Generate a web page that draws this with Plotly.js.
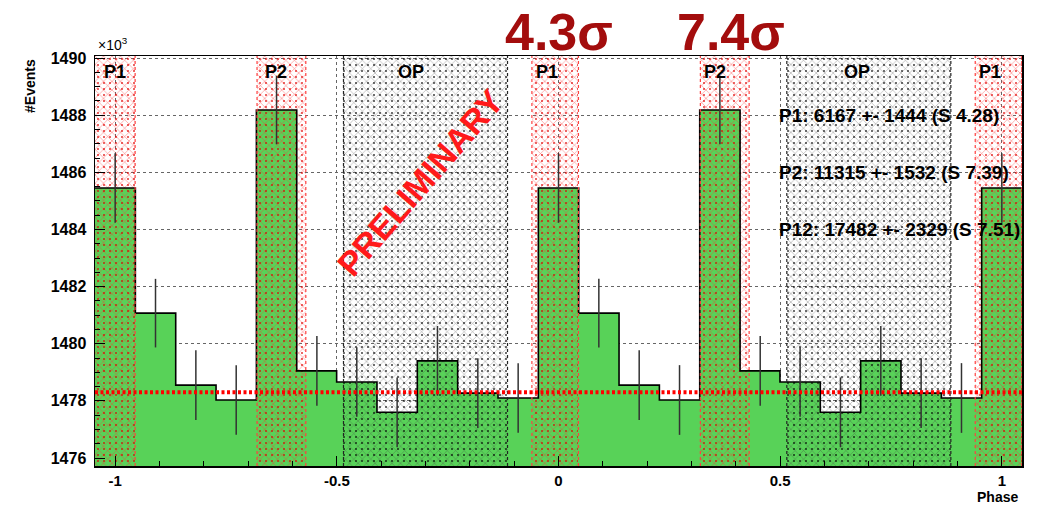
<!DOCTYPE html>
<html><head><meta charset="utf-8">
<script src="https://cdn.plot.ly/plotly-3.0.1.min.js"></script>
<style>html,body{margin:0;padding:0;background:#fff}#chart{width:1043px;height:506px}</style>
</head><body><div id="chart"></div>
<script>
// ---- data ----
const binCenters = [-1.000,-0.909,-0.818,-0.727,-0.636,-0.545,-0.455,-0.364,-0.273,-0.182,-0.091,
                     0.000, 0.091, 0.182, 0.273, 0.364, 0.455, 0.545, 0.636, 0.727, 0.818, 0.909, 1.000];
const binWidth = 0.0909;
const counts = [1485.45,1481.07,1478.55,1478.03,1488.18,1479.05,1478.66,1477.60,1479.40,1478.27,1478.10,
                1485.45,1481.07,1478.55,1478.03,1488.18,1479.05,1478.66,1477.60,1479.40,1478.27,1478.10,
                1485.45];
const countErrors = [1.22,1.20,1.22,1.22,1.20,1.22,1.22,1.22,1.22,1.22,1.22,
                     1.22,1.20,1.22,1.22,1.20,1.22,1.22,1.22,1.22,1.22,1.22,
                     1.22];
const bkgLevel = 1478.3;
const p1Start = [-1.06,-0.06,0.94];
const p1End   = [-0.955,0.045,1.045];
const p2Start = [-0.68,0.32];
const p2End   = [-0.57,0.43];
const opStart = [-0.485,0.515];
const opEnd   = [-0.115,0.885];
const regionLabels = ['P1','P1','P1','P2','P2','OP','OP'];
const regionLabelX = [-1.0,-0.025,0.973,-0.637,0.354,-0.332,0.673];
const fitTexts = ['P1: 6167 +- 1444 (S 4.28)','P2: 11315 +- 1532 (S 7.39)','P12: 17482 +- 2329 (S 7.51)'];
const fitTextY = [1488,1486,1484];
const sigmaTexts = ['4.3σ','7.4σ'];
const sigmaX = [0,0.388];
const yTickVals = [1476,1478,1480,1482,1484,1486,1488,1490];
const xTickVals = [-1,-0.5,0,0.5,1];
const xTickText = ['-1','-0.5','0','0.5','1'];

const xRange = [-1.0455,1.0455];
const yRange = [1475.72,1490.07];
const FONT = 'Liberation Sans, Arial, Helvetica, sans-serif';

function regionBar(starts, ends, fg, op, shape, size, sol) {
  return {
    type:'bar',
    x: starts.map((s,i)=>(s+ends[i])/2),
    width: starts.map((s,i)=>ends[i]-s),
    y: starts.map(()=>yRange[1]-yRange[0]),
    base: yRange[0],
    marker:{color:'rgba(0,0,0,0)', line:{width:0},
      pattern:{shape:shape, fgcolor:fg, bgcolor:'rgba(0,0,0,0)', size:size, solidity:sol, fgopacity:op}},
    hoverinfo:'skip', showlegend:false
  };
}

// step outline from bin edges
const stepX = binCenters.map(c=>c-binWidth/2).concat([binCenters[binCenters.length-1]+binWidth/2]);
const stepY = counts.concat([counts[counts.length-1]]);

const traces = [
  {type:'bar', x:binCenters, y:counts, width:binWidth, marker:{color:'#58d258', line:{width:0}},
   hoverinfo:'skip', showlegend:false},
  regionBar(p1Start,p1End,'#ff3030',0.65,'x',6,0.18),
  regionBar(p2Start,p2End,'#ff3030',0.65,'x',6,0.18),
  regionBar(p1Start,p1End,'#e00000',0.75,'.',6,0.1),
  regionBar(p2Start,p2End,'#e00000',0.75,'.',6,0.1),
  regionBar(opStart,opEnd,'#444444',0.55,'x',6,0.17),
  regionBar(opStart,opEnd,'#000000',0.7,'.',6,0.1),
  {type:'scatter', mode:'lines', x:stepX, y:stepY, line:{shape:'hv', color:'#000', width:1.6},
   hoverinfo:'skip', showlegend:false},
  {type:'scatter', mode:'markers', x:binCenters, y:counts, marker:{size:1, color:'rgba(0,0,0,0)'},
   error_y:{type:'data', array:countErrors, visible:true, color:'#333', thickness:1.5, width:0},
   hoverinfo:'skip', showlegend:false}
];

const shapes = [];
function edgeLines(starts, ends, color){
  starts.forEach((s,i)=>{
    [s,ends[i]].forEach(v=>{
      if (v>xRange[0] && v<xRange[1]) shapes.push({type:'line', xref:'x', yref:'paper', x0:v, x1:v, y0:0, y1:1,
        line:{color:color, width:1.2, dash:'dot'}, layer:'above'});
    });
  });
}
edgeLines(p1Start,p1End,'#ff4040');
edgeLines(p2Start,p2End,'#ff4040');
edgeLines(opStart,opEnd,'#222');
shapes.push({type:'line', xref:'paper', yref:'y', x0:0, x1:1, y0:bkgLevel, y1:bkgLevel,
  line:{color:'#ff0000', width:4, dash:'3px,2.5px'}, layer:'above'});

const annotations = [];
regionLabels.forEach((t,i)=>annotations.push({text:t, x:regionLabelX[i], y:0.962, xref:'x', yref:'paper',
  xanchor:'center', yanchor:'middle',
  showarrow:false, font:{family:FONT, size:18, color:'#000', weight:'bold'}}));
fitTexts.forEach((t,i)=>annotations.push({text:t, x:0.736, y:fitTextY[i], xref:'paper', yref:'y',
  xanchor:'left', yanchor:'middle', showarrow:false, font:{family:FONT, size:19, color:'#000', weight:'bold'}}));
sigmaTexts.forEach((t,i)=>annotations.push({text:t, x:sigmaX[i], y:1.059, xref:'x', yref:'paper',
  xanchor:'center', yanchor:'middle', showarrow:false, font:{family:FONT, size:52, color:'#a30d0d', weight:'bold'}}));
annotations.push({text:'PRELIMINARY', x:0.3506, y:0.69, xref:'paper', yref:'paper', textangle:-49,
  xanchor:'center', yanchor:'middle',
  showarrow:false, font:{family:FONT, size:34, color:'#ff1a1a', weight:'bold'}});
annotations.push({text:'#Events', x:0, xshift:-65, y:0.927, xref:'paper', yref:'paper', textangle:-90,
  xanchor:'center', yanchor:'middle',
  showarrow:false, font:{family:FONT, size:14, color:'#000', weight:'bold'}});
annotations.push({text:'Phase', x:0.974, y:-0.0756, xref:'paper', yref:'paper',
  xanchor:'center', yanchor:'middle',
  showarrow:false, font:{family:FONT, size:14, color:'#000', weight:'bold'}});
annotations.push({text:'×10<sup>3</sup>', x:0.0, xshift:1, y:1.03, xref:'paper', yref:'paper',
  xanchor:'left', yanchor:'middle',
  showarrow:false, font:{family:FONT, size:14, color:'#000'}});

const layout = {
  width:1043, height:506,
  margin:{l:95, r:21, t:56, b:40},
  paper_bgcolor:'#fff', plot_bgcolor:'#fff',
  barmode:'overlay', bargap:0,
  showlegend:false,
  xaxis:{range:xRange, tickvals:xTickVals, ticktext:xTickText, ticks:'inside', ticklen:10, tickcolor:'#000',
    minor:{dtick:0.1, tick0:0, ticks:'inside', ticklen:5, tickcolor:'#000', showgrid:false},
    showline:true, mirror:true, linecolor:'#000', linewidth:1.5,
    showgrid:true, gridcolor:'#666', griddash:'dot', gridwidth:1, zeroline:false,
    tickfont:{family:FONT, size:15, color:'#000', weight:'bold'}},
  yaxis:{range:yRange, tickvals:yTickVals, ticks:'inside', ticklen:10, tickcolor:'#000',
    minor:{dtick:0.5, tick0:1476, ticks:'inside', ticklen:5, tickcolor:'#000', showgrid:false},
    showline:true, mirror:true, linecolor:'#000', linewidth:1.5,
    showgrid:true, gridcolor:'#666', griddash:'dot', gridwidth:1, zeroline:false,
    ticklabelstandoff:4,
    tickfont:{family:FONT, size:16, color:'#000', weight:'bold'}},
  shapes:shapes,
  annotations:annotations
};

Plotly.newPlot('chart', traces, layout, {displayModeBar:false, staticPlot:true});
</script></body></html>
